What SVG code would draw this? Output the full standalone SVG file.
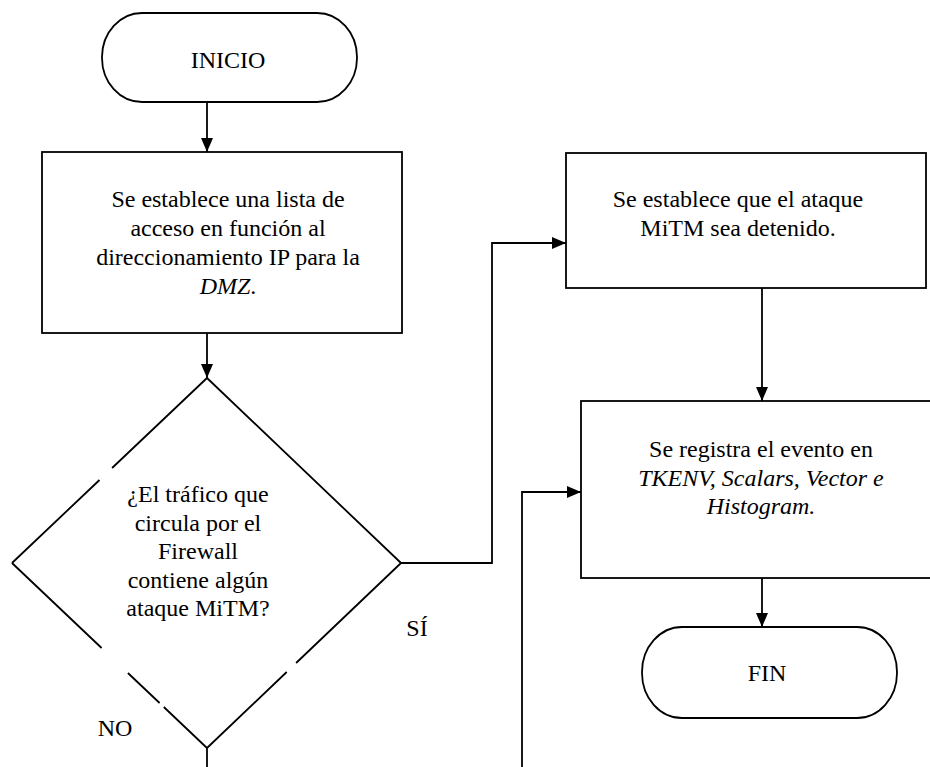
<svg xmlns="http://www.w3.org/2000/svg" width="930" height="767" viewBox="0 0 930 767">
  <style>
    .shape { fill: #ffffff; stroke: #000000; stroke-width: 1.8; }
    .edge { fill: none; stroke: #000000; stroke-width: 1.8; }
    .conn { fill: none; stroke: #000000; stroke-width: 1.8; }
    .lbl { font-family: 'Liberation Serif', 'DejaVu Serif', 'Times New Roman', serif; font-size: 24px; fill: #000000; text-anchor: middle; }
    .it { font-style: italic; }
  </style>
  <defs>
    <marker id="arrow" markerUnits="userSpaceOnUse" markerWidth="14" markerHeight="12" refX="14" refY="6" orient="auto">
      <path d="M0,0 L14,6 L0,12 Z" fill="#000000"/>
    </marker>
  </defs>
  <rect width="930" height="767" fill="#ffffff"/>

  <!-- connectors -->
  <g id="connectors">
    <line class="conn" x1="207" y1="102" x2="207" y2="152" marker-end="url(#arrow)"/>
    <line class="conn" x1="207" y1="333" x2="207" y2="378" marker-end="url(#arrow)"/>
    <polyline class="conn" points="401,563 492,563 492,243 566,243" marker-end="url(#arrow)"/>
    <line class="conn" x1="762" y1="288" x2="762" y2="401" marker-end="url(#arrow)"/>
    <line class="conn" x1="762" y1="578" x2="762" y2="627" marker-end="url(#arrow)"/>
    <polyline class="conn" points="522,767 522,492 581,492" marker-end="url(#arrow)"/>
    <line class="conn" x1="207" y1="748" x2="207" y2="767"/>
  </g>

  <!-- start terminal -->
  <g id="inicio">
    <rect class="shape" x="102" y="13" width="255" height="89" rx="40" ry="44"/>
    <text class="lbl" font-family="Liberation Serif, serif" x="228" y="68">INICIO</text>
  </g>

  <!-- access list step -->
  <g id="lista-acceso" font-family="Liberation Serif, serif">
    <rect class="shape" x="42" y="152" width="360" height="181"/>
    <text class="lbl" x="228" y="207">Se establece una lista de</text>
    <text class="lbl" x="228" y="236">acceso en función al</text>
    <text class="lbl" x="228" y="265">direccionamiento IP para la</text>
    <text class="lbl" x="228" y="294"><tspan class="it">DMZ</tspan>.</text>
  </g>

  <!-- decision: edges broken where label boxes cover them -->
  <g id="decision">
    <path class="edge" d="M207,378 L401,563
      M207,378 L112.1,468 M99.5,480 L12,563
      M12,563 L101.6,648 M127.9,673 L159.6,703 M163.8,707 L207,748
      M401,563 L296.1,663 M286.7,672 L207,748"/>
    <text class="lbl" x="198" y="502">¿El tráfico que</text>
    <text class="lbl" x="198" y="531">circula por el</text>
    <text class="lbl" x="198" y="559">Firewall</text>
    <text class="lbl" x="198" y="588">contiene algún</text>
    <text class="lbl" x="198" y="616">ataque MiTM?</text>
  </g>

  <g id="label-si">
    <text class="lbl" x="417" y="636">SÍ</text>
  </g>
  <g id="label-no">
    <text class="lbl" x="115" y="736">NO</text>
  </g>

  <!-- stop attack step -->
  <g id="detener">
    <rect class="shape" x="566" y="153" width="360" height="135"/>
    <text class="lbl" x="738" y="207">Se establece que el ataque</text>
    <text class="lbl" x="738" y="236">MiTM sea detenido.</text>
  </g>

  <!-- event logging step -->
  <g id="registro">
    <rect class="shape" x="581" y="401" width="400" height="177"/>
    <text class="lbl" x="761" y="457">Se registra el evento en</text>
    <text class="lbl it" x="761" y="486">TKENV, Scalars, Vector e</text>
    <text class="lbl it" x="761" y="514">Histogram.</text>
  </g>

  <!-- end terminal -->
  <g id="fin">
    <rect class="shape" x="642" y="627" width="255" height="91" rx="40" ry="45"/>
    <text class="lbl" x="767" y="681">FIN</text>
  </g>
</svg>
